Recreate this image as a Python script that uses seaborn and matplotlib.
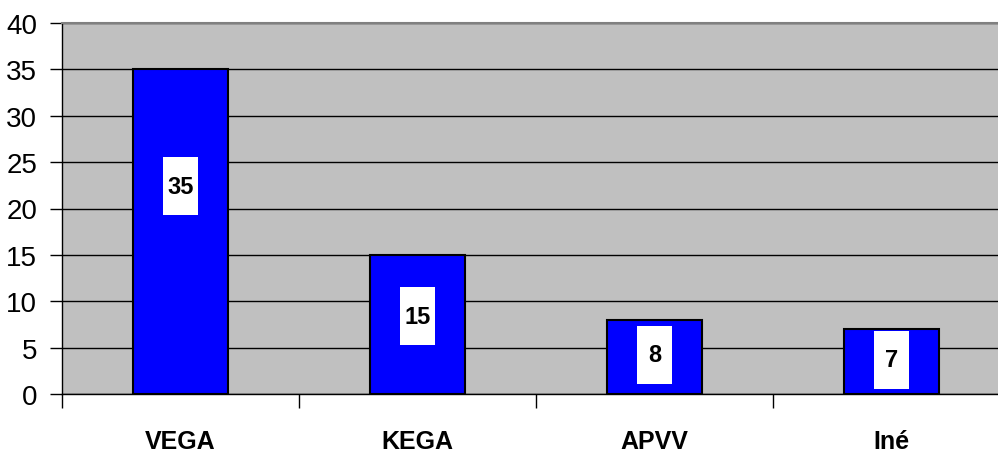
import numpy as np
import pandas as pd
import matplotlib
matplotlib.use("Agg")
import matplotlib.pyplot as plt
from matplotlib.patches import Rectangle
import seaborn as sns

# ---------- DATA ----------
categories = ["VEGA", "KEGA", "APVV", "Iné"]
values = [35, 15, 8, 7]
y_ticks = [0, 5, 10, 15, 20, 25, 30, 35, 40]

df = pd.DataFrame({"grant": categories, "count": values})

# ---------- STYLE ----------
sns.set_theme(style="white")
plt.rcParams["font.family"] = ["Liberation Sans", "DejaVu Sans"]

fig = plt.figure(figsize=(9.98, 4.52), dpi=100)
ax = fig.add_axes([62 / 998, 57 / 452, 948 / 998, 371 / 452])
ax.set_facecolor("#C0C0C0")

sns.barplot(
    data=df, x="grant", y="count", ax=ax,
    color="#0000FF", saturation=1, width=0.40,
    edgecolor="black", linewidth=1.5, zorder=3
)

# value labels in tall white boxes (Excel style)
box_w, box_h = 0.1435, 6.25
for i, v in enumerate(values):
    yc = v / 2 + v * v / 250
    ax.add_patch(Rectangle((i - box_w / 2, yc - box_h / 2), box_w, box_h,
                           facecolor="white", edgecolor="none", zorder=4))
    ax.text(i, yc, str(v), ha="center", va="center", fontsize=17,
            fontweight="bold", color="black", zorder=5)

ax.set_ylim(0, 40)
ax.set_xlim(-0.5, 3.5)
ax.set_yticks(y_ticks)
ax.yaxis.grid(True, color="black", linewidth=1)
ax.set_axisbelow(True)

ax.set_xlabel("")
ax.set_ylabel("")
ax.tick_params(axis="y", labelsize=20, length=9, width=1, color="black",
               labelcolor="black", direction="out", left=True, pad=9)
ax.tick_params(axis="x", which="major", labelsize=18, length=0, pad=25,
               labelcolor="black")
for lbl in ax.get_xticklabels():
    lbl.set_fontweight("bold")

ax.set_xticks([-0.5, 0.5, 1.5, 2.5, 3.5], minor=True)
ax.tick_params(axis="x", which="minor", length=10, width=1, color="black",
               direction="out", bottom=True)

for side in ["left", "bottom"]:
    ax.spines[side].set_color("black")
    ax.spines[side].set_linewidth(1)
ax.spines["top"].set_color("#808080")
ax.spines["top"].set_linewidth(1.5)
ax.spines["right"].set_visible(False)

fig.savefig("out.png", dpi=100)
